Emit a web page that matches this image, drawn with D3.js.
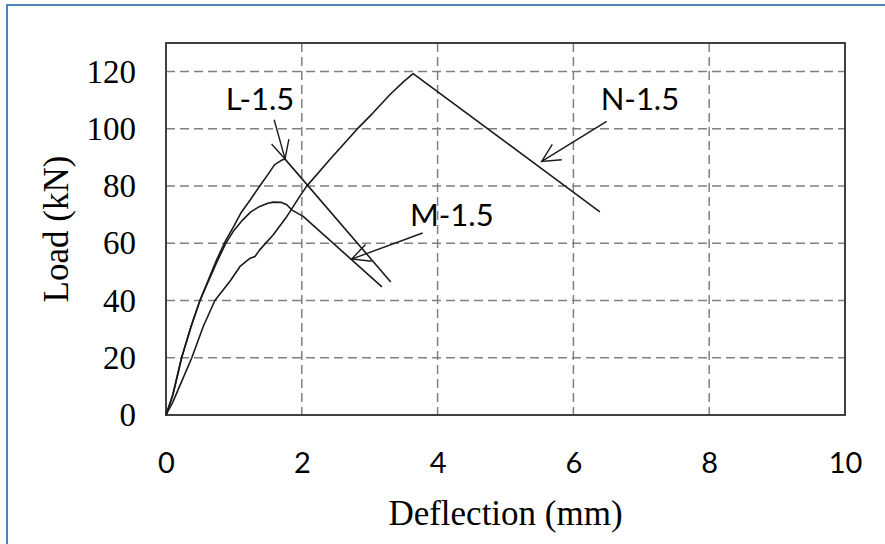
<!DOCTYPE html>
<html>
<head>
<meta charset="utf-8">
<script src="https://cdn.jsdelivr.net/npm/d3@7"></script>
<style>
  body { margin: 0; background: #fff; }
</style>
</head>
<body>
<div id="chart"></div>
<script>

// data (deflection in mm, load in kN)
var L15_x = [0, 0.1, 0.23, 0.37, 0.5, 0.62, 0.75, 0.88, 1.0, 1.1, 1.25, 1.38, 1.5, 1.6, 1.7, 1.75, 3.31];
var L15_y = [0, 7, 20, 31, 40, 47, 54.5, 61, 66, 70.5, 75.5, 80, 84, 87.5, 89, 89.5, 46.5];

var M15_x = [0, 0.1, 0.23, 0.37, 0.5, 0.62, 0.75, 0.88, 1.0, 1.13, 1.25, 1.38, 1.5, 1.58, 1.7, 1.78, 1.85, 2.02, 3.18];
var M15_y = [0, 7, 20, 31, 40, 46.5, 53.5, 60, 64.5, 68.2, 71, 72.9, 74, 74.4, 74.3, 73.5, 71.7, 69.4, 44.8];

var N15_x = [0, 0.1, 0.2, 0.38, 0.55, 0.72, 0.95, 1.09, 1.24, 1.31, 1.38, 1.58, 1.78, 1.97, 2.07, 2.41, 2.81, 3.05, 3.3, 3.5, 3.64, 6.39];
var N15_y = [0, 4.5, 10, 20, 31, 40, 47, 51.9, 54.8, 55.4, 57.7, 63, 69.4, 76.4, 79.9, 89.2, 99.8, 105.6, 112, 116.5, 119.3, 71];

var xTicks = [0, 2, 4, 6, 8, 10];
var yTicks = [0, 20, 40, 60, 80, 100, 120];

// label, text point, arrow start, arrow tip (data units)
var labels = ["L-1.5", "M-1.5", "N-1.5"];
var labelAt = [[1.385, 106.7], [4.21, 65.9], [6.98, 106.7]];
var arrowFrom = [[1.593, 103.2], [3.78, 63.6], [6.49, 102.6]];
var arrowTo = [[1.753, 89.5], [2.735, 54.5], [5.533, 88.6]];

var W = 885, H = 544;
var margin = {top: 43, right: 40, bottom: 129, left: 166};
var width = W - margin.left - margin.right;
var height = H - margin.top - margin.bottom;

var svg = d3.select("#chart").append("svg")
    .attr("width", W)
    .attr("height", H);

svg.append("rect")
    .attr("width", W).attr("height", H)
    .attr("fill", "#fff");

// blue outer frame (runs past the right and bottom edges)
svg.append("rect")
    .attr("x", 7).attr("y", 5)
    .attr("width", 920).attr("height", 580)
    .attr("fill", "none")
    .attr("stroke", "#4f81bd")
    .attr("stroke-width", 2);

var g = svg.append("g")
    .attr("transform", "translate(" + margin.left + "," + margin.top + ")");

var x = d3.scaleLinear().domain([0, 10]).range([0, width]);
var y = d3.scaleLinear().domain([0, 130]).range([height, 0]);

// dashed grid
g.selectAll(".gy").data(yTicks.filter(function(d) { return d > 0; }))
  .enter().append("line")
    .attr("x1", 0).attr("x2", width)
    .attr("y1", function(d) { return y(d); })
    .attr("y2", function(d) { return y(d); })
    .attr("stroke", "#808080")
    .attr("stroke-width", 1.5)
    .attr("stroke-dasharray", "9,5");

g.selectAll(".gx").data(xTicks.filter(function(d) { return d > 0 && d < 10; }))
  .enter().append("line")
    .attr("y1", 0).attr("y2", height)
    .attr("x1", function(d) { return x(d); })
    .attr("x2", function(d) { return x(d); })
    .attr("stroke", "#808080")
    .attr("stroke-width", 1.5)
    .attr("stroke-dasharray", "9,5");

// axes (labels only)
var yAxis = g.append("g")
    .call(d3.axisLeft(y).tickValues(yTicks).tickSize(0).tickPadding(30));
yAxis.select(".domain").remove();
yAxis.selectAll("text")
    .attr("font-family", "'Liberation Serif', 'Times New Roman', serif")
    .attr("font-size", 33)
    .attr("fill", "#000");

var xAxis = g.append("g")
    .attr("transform", "translate(0," + height + ")")
    .call(d3.axisBottom(x).tickValues(xTicks).tickSize(0).tickPadding(37));
xAxis.select(".domain").remove();
xAxis.selectAll("text")
    .attr("font-family", "Lato, 'Open Sans', sans-serif")
    .attr("font-size", 29)
    .attr("fill", "#000");

// plot frame
g.append("rect")
    .attr("width", width).attr("height", height)
    .attr("fill", "none")
    .attr("stroke", "#404040")
    .attr("stroke-width", 2);

// axis titles
svg.append("text")
    .attr("x", margin.left + width / 2)
    .attr("y", 525)
    .attr("text-anchor", "middle")
    .attr("font-family", "'Liberation Serif', 'Times New Roman', serif")
    .attr("font-size", 35)
    .text("Deflection (mm)");

svg.append("text")
    .attr("transform", "translate(68," + (margin.top + height / 2) + ") rotate(-90)")
    .attr("text-anchor", "middle")
    .attr("font-family", "'Liberation Serif', 'Times New Roman', serif")
    .attr("font-size", 35)
    .text("Load (kN)");

// curves
var line = d3.line()
    .x(function(d) { return x(d[0]); })
    .y(function(d) { return y(d[1]); });

var series = [d3.zip(L15_x, L15_y), d3.zip(M15_x, M15_y), d3.zip(N15_x, N15_y)];

g.selectAll(".curve").data(series)
  .enter().append("path")
    .attr("class", "curve")
    .attr("d", line)
    .attr("fill", "none")
    .attr("stroke", "#1a1a1a")
    .attr("stroke-width", 1.6)
    .attr("stroke-linejoin", "round");

// annotations with open arrowheads
svg.append("defs").append("marker")
    .attr("id", "head")
    .attr("markerUnits", "userSpaceOnUse")
    .attr("viewBox", "-20 -10 22 20")
    .attr("refX", 0).attr("refY", 0)
    .attr("markerWidth", 22).attr("markerHeight", 20)
    .attr("orient", "auto")
  .append("path")
    .attr("d", "M-18,-9L0,0L-18,9")
    .attr("fill", "none")
    .attr("stroke", "#1a1a1a")
    .attr("stroke-width", 1.4);

labels.forEach(function(lab, i) {
    g.append("line")
        .attr("x1", x(arrowFrom[i][0])).attr("y1", y(arrowFrom[i][1]))
        .attr("x2", x(arrowTo[i][0])).attr("y2", y(arrowTo[i][1]))
        .attr("stroke", "#1a1a1a")
        .attr("stroke-width", 1.4)
        .attr("marker-end", "url(#head)");

    g.append("text")
        .attr("x", x(labelAt[i][0]))
        .attr("y", y(labelAt[i][1]))
        .attr("text-anchor", "middle")
        .attr("font-family", "Lato, 'Open Sans', sans-serif")
        .attr("font-size", 31)
        .attr("fill", "#000")
        .text(lab);
});

</script>
</body>
</html>
